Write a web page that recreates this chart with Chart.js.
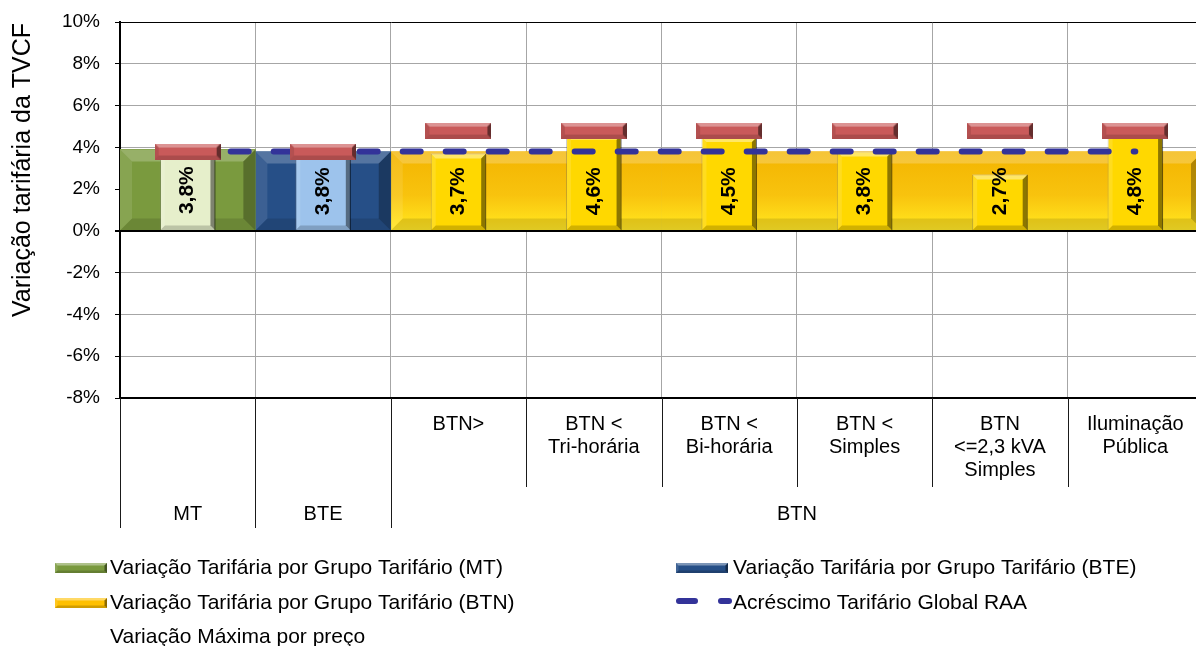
<!DOCTYPE html>
<html>
<head>
<meta charset="utf-8">
<script src="https://cdn.jsdelivr.net/npm/chart.js@4.4.1/dist/chart.umd.min.js"></script>
<style>
  html, body { margin: 0; padding: 0; background: #fff; overflow: hidden; }
  #wrap { position: relative; width: 1196px; height: 646px; overflow: hidden; }
  canvas { display: block; }
</style>
</head>
<body>
<div id="wrap"><canvas id="chart" width="1212" height="646" style="width:1212px;height:646px"></canvas></div>
<script>
// ---- data ----
const categories = ['', '', 'BTN>', ['BTN <', 'Tri-horária'], ['BTN <', 'Bi-horária'], ['BTN <', 'Simples'], ['BTN', '<=2,3 kVA', 'Simples'], ['Iluminação', 'Pública']];
const groupNames = ['MT', 'BTE', 'BTN'];
const groupSizes = [1, 1, 6];
const groupValues = [3.9, 3.8, 3.8];
const tariffValues = [3.8, 3.8, 3.7, 4.6, 4.5, 3.8, 2.7, 4.8];
const maxPriceValues = [3.8, 3.8, 4.8, 4.8, 4.8, 4.8, 4.8, 4.8];
const globalIncrease = [3.8, 3.8, 3.8, 3.8, 3.8, 3.8, 3.8, 3.8];
const yTicks = [-8, -6, -4, -2, 0, 2, 4, 6, 8, 10];

const FONT = "'Liberation Sans', Arial, sans-serif";
Chart.defaults.font.family = FONT;
Chart.defaults.color = '#000';

// group index of every category
const groupOf = [];
groupSizes.forEach((n, g) => { for (let k = 0; k < n; k++) groupOf.push(g); });

const groupColors = ['#7A9A3E', '#264F87', '#FFC000'];
const lightColors = ['#E6EFCB', '#9DC3EC', '#FFD800'];
const fmt = v => v.toFixed(1).replace('.', ',') + '%';

// ---- bevel shading helper ----
function bevel(ctx, l, t, r, b, w, s) {
  w = Math.min(w, (r - l) / 2, (b - t) / 2);
  if (w <= 0) return;
  const quad = (p, c) => {
    ctx.beginPath(); ctx.moveTo(p[0], p[1]);
    for (let k = 2; k < p.length; k += 2) ctx.lineTo(p[k], p[k + 1]);
    ctx.closePath(); ctx.fillStyle = c; ctx.fill();
  };
  quad([l, t, r, t, r - w, t + w, l + w, t + w], s.top);
  quad([l, t, l + w, t + w, l + w, b - w, l, b], s.left);
  quad([r, t, r, b, r - w, b - w, r - w, t + w], s.right);
  quad([l, b, l + w, b - w, r - w, b - w, r, b], s.bottom);
}
const shadeWide = { top: 'rgba(255,255,255,0.22)', left: 'rgba(255,255,255,0.10)', right: 'rgba(0,0,0,0.28)', bottom: 'rgba(0,0,0,0.12)' };
const shadeNarrow = { top: 'rgba(255,255,255,0.40)', left: 'rgba(255,255,255,0.12)', right: 'rgba(0,0,0,0.45)', bottom: 'rgba(0,0,0,0.18)' };
const shadeMarker = { top: 'rgba(255,255,255,0.35)', left: 'rgba(0,0,0,0.10)', right: 'rgba(0,0,0,0.50)', bottom: 'rgba(0,0,0,0.15)' };

// marker image for the maximum-variation series
function makeMarker() {
  const c = document.createElement('canvas');
  c.width = 66; c.height = 16;
  const g = c.getContext('2d');
  g.fillStyle = '#C95A5A';
  g.fillRect(0, 0, 66, 16);
  bevel(g, 0, 0, 66, 16, 4, shadeMarker);
  return c;
}
const markerImg = makeMarker();

// vertical gradient for the BTN group bar
function yellowFill(c) {
  const chart = c.chart;
  if (!chart.chartArea) return groupColors[2];
  const y = chart.scales.y;
  const g = chart.ctx.createLinearGradient(0, y.getPixelForValue(groupValues[2]), 0, y.getPixelForValue(0));
  g.addColorStop(0, '#F3B400');
  g.addColorStop(0.55, '#F8C30E');
  g.addColorStop(0.85, '#FFDD1A');
  g.addColorStop(1, '#FFE62A');
  return g;
}

const groupSets = groupNames.map((name, g) => ({
  type: 'bar',
  label: 'Variação Tarifária por Grupo Tarifário (' + name + ')',
  data: categories.map((_, i) => groupOf[i] === g ? groupValues[g] : null),
  backgroundColor: g === 2 ? yellowFill : groupColors[g],
  swatch: groupColors[g],
  barPercentage: 1,
  categoryPercentage: 1,
  grouped: false,
  order: 3,
  bevelWidth: 12,
  bevelShade: shadeWide,
  mergeRuns: true,
  legendSymbol: 'bar'
}));

const datasets = [
  ...groupSets,
  {
    type: 'bar',
    label: 'Variação tarifária',
    data: tariffValues,
    backgroundColor: categories.map((_, i) => lightColors[groupOf[i]]),
    borderColor: 'rgba(0,0,0,0.25)',
    borderWidth: 1,
    barPercentage: 0.41,
    categoryPercentage: 1,
    grouped: false,
    order: 2,
    bevelWidth: 5,
    bevelShade: shadeNarrow,
    legendSymbol: null
  },
  {
    type: 'line',
    label: 'Acréscimo Tarifário Global RAA',
    data: globalIncrease,
    borderColor: '#333399',
    borderWidth: 6,
    borderDash: [18, 25],
    borderCapStyle: 'round',
    pointRadius: 0,
    tension: 0,
    order: 1,
    legendSymbol: 'dash'
  },
  {
    type: 'line',
    label: 'Variação Máxima por preço',
    data: maxPriceValues,
    showLine: false,
    pointStyle: markerImg,
    pointRadius: 8,
    pointHoverRadius: 8,
    order: 0,
    legendSymbol: 'none'
  }
];

// ---- plugins ----
const bevelPlugin = {
  id: 'bevel',
  afterDatasetDraw(chart, args) {
    const ds = chart.data.datasets[args.index];
    if (!ds.bevelWidth) return;
    const ctx = chart.ctx;
    const els = args.meta.data;
    const runs = [];
    let cur = null;
    els.forEach((el, i) => {
      if (ds.data[i] === null || ds.data[i] === undefined) { cur = null; return; }
      const l = el.x - el.width / 2, r = el.x + el.width / 2;
      if (ds.mergeRuns && cur) { cur.r = r; cur.t = Math.min(cur.t, el.y); }
      else { cur = { l, r, t: el.y, b: el.base }; runs.push(cur); }
    });
    ctx.save();
    const area = chart.chartArea;
    ctx.beginPath(); ctx.rect(area.left, area.top, area.right - area.left, area.bottom - area.top); ctx.clip();
    runs.forEach(rn => bevel(ctx, rn.l, rn.t, rn.r, rn.b, ds.bevelWidth, ds.bevelShade));
    ctx.restore();
  }
};

const decorPlugin = {
  id: 'decor',
  afterDatasetsDraw(chart) {
    const ctx = chart.ctx, y = chart.scales.y, area = chart.chartArea;
    // zero line over the bars
    ctx.save();
    ctx.strokeStyle = '#000'; ctx.lineWidth = 2;
    const y0 = y.getPixelForValue(0);
    ctx.beginPath(); ctx.moveTo(area.left - 5, y0); ctx.lineTo(area.right, y0); ctx.stroke();
    // value labels
    const meta = chart.getDatasetMeta(groupNames.length);
    ctx.fillStyle = '#000';
    ctx.font = 'bold 21px ' + FONT;
    ctx.textAlign = 'center'; ctx.textBaseline = 'middle';
    tariffValues.forEach((v, i) => {
      const el = meta.data[i];
      const ly = y.getPixelForValue(groupValues[groupOf[i]] / 2);
      ctx.save();
      ctx.translate(el.x, ly);
      ctx.rotate(-Math.PI / 2);
      ctx.fillText(fmt(v), 0, 0);
      ctx.restore();
    });
    ctx.restore();
  },
  afterDraw(chart) {
    const ctx = chart.ctx, x = chart.scales.x, area = chart.chartArea;
    const n = categories.length;
    const edge = i => i === 0 ? area.left : (i === n ? area.right : (x.getPixelForValue(i - 1) + x.getPixelForValue(i)) / 2);
    const groupStarts = [0];
    groupSizes.forEach(s => groupStarts.push(groupStarts[groupStarts.length - 1] + s));
    ctx.save();
    // separators below the axis
    ctx.strokeStyle = '#1a1a1a'; ctx.lineWidth = 1;
    for (let i = 0; i <= n; i++) {
      const isGroup = groupStarts.includes(i);
      const px = Math.round(edge(i)) + 0.5;
      ctx.beginPath();
      ctx.moveTo(px, area.bottom);
      ctx.lineTo(px, isGroup ? x.bottom : area.bottom + 89);
      ctx.stroke();
    }
    // group labels
    ctx.fillStyle = '#000';
    ctx.font = '20px ' + FONT;
    ctx.textAlign = 'center'; ctx.textBaseline = 'middle';
    groupNames.forEach((name, g) => {
      const cx = (edge(groupStarts[g]) + edge(groupStarts[g + 1])) / 2;
      ctx.fillText(name, cx, area.bottom + 116);
    });
    // axis title
    ctx.save();
    ctx.font = '25px ' + FONT;
    ctx.translate(23, 170);
    ctx.rotate(-Math.PI / 2);
    ctx.fillText('Variação tarifária da TVCF', 0, 0);
    ctx.restore();
    // legend
    const items = chart.data.datasets.filter(d => d.legendSymbol);
    const symX = [55, 676], txtX = [110, 733], rowY = [568, 603, 637];
    ctx.font = '21px ' + FONT;
    ctx.textAlign = 'left';
    items.forEach((d, k) => {
      const col = k % 2, row = Math.floor(k / 2);
      const sx = symX[col], sy = rowY[row];
      if (d.legendSymbol === 'bar') {
        ctx.fillStyle = d.swatch;
        ctx.fillRect(sx, sy - 5, 52, 10);
        bevel(ctx, sx, sy - 5, sx + 52, sy + 5, 2.5, shadeNarrow);
      } else if (d.legendSymbol === 'dash') {
        ctx.strokeStyle = d.borderColor; ctx.lineWidth = 6; ctx.lineCap = 'round';
        ctx.beginPath();
        ctx.moveTo(sx + 3, sy - 2); ctx.lineTo(sx + 19, sy - 2);
        ctx.moveTo(sx + 45, sy - 2); ctx.lineTo(sx + 53, sy - 2);
        ctx.stroke();
      }
      ctx.fillStyle = '#000';
      ctx.fillText(d.label, txtX[col], sy);
    });
    ctx.restore();
  }
};

new Chart(document.getElementById('chart'), {
  data: { labels: categories, datasets },
  options: {
    responsive: false,
    animation: false,
    events: [],
    layout: { padding: { top: 22, right: 9, bottom: 118, left: 0 } },
    plugins: { legend: { display: false }, tooltip: { enabled: false } },
    scales: {
      x: {
        type: 'category',
        offset: true,
        grid: { offset: true, color: '#A6A6A6', lineWidth: 1, drawTicks: false },
        border: { color: '#000', width: 2 },
        ticks: { autoSkip: false, maxRotation: 0, padding: 15, font: { size: 20, lineHeight: 1.15 }, color: '#000' },
        afterFit(scale) { scale.height = 130; }
      },
      y: {
        type: 'linear',
        min: -8, max: 10,
        afterBuildTicks(scale) { scale.ticks = yTicks.map(v => ({ value: v })); },
        grid: {
          color: c => (c.tick && c.tick.value === 10) ? '#000' : '#A6A6A6',
          lineWidth: 1,
          tickLength: 5,
          tickColor: '#000'
        },
        border: { color: '#000', width: 2 },
        ticks: { padding: 15, font: { size: 19 }, color: '#000', callback: v => v + '%' },
        afterFit(scale) {
          scale.width = 120;
          scale.paddingTop = 0;
          scale.paddingBottom = 0;
        }
      }
    }
  },
  plugins: [bevelPlugin, decorPlugin]
});
</script>
</body>
</html>
